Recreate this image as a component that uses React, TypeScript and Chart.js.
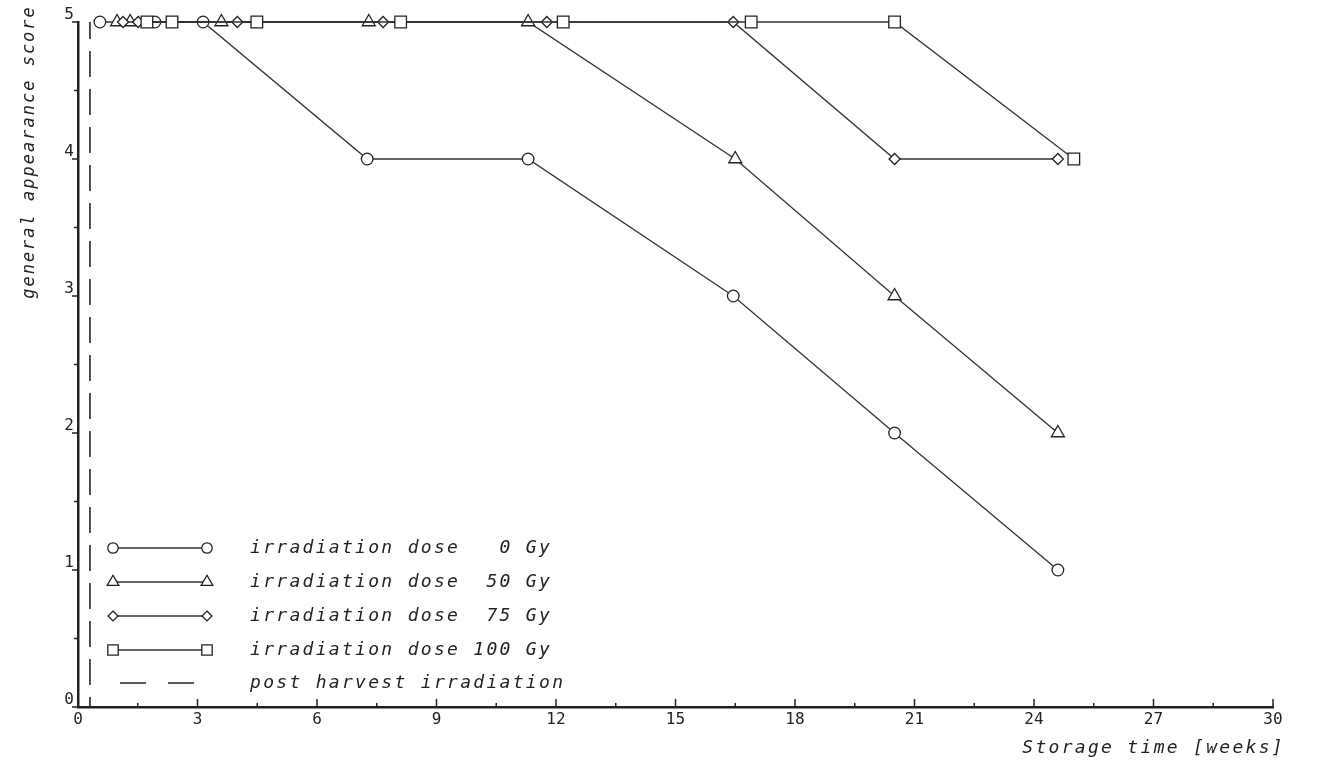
import React, { useEffect, useRef } from "react";
import { Chart, registerables } from "chart.js";

Chart.register(...registerables);

// ---- data ----
const weeks0 = [0.55, 1.93, 3.14, 7.26, 11.3, 16.45, 20.5, 24.6];
const score0 = [5, 5, 5, 4, 4, 3, 2, 1];
const weeks50 = [0.98, 1.31, 3.6, 7.3, 11.3, 16.5, 20.5, 24.6];
const score50 = [5, 5, 5, 5, 5, 4, 3, 2];
const weeks75 = [1.13, 1.51, 4.0, 7.66, 11.77, 16.45, 20.5, 24.6];
const score75 = [5, 5, 5, 5, 5, 5, 4, 4];
const weeks100 = [1.73, 2.36, 4.49, 8.1, 12.18, 16.9, 20.5, 25.0];
const score100 = [5, 5, 5, 5, 5, 5, 5, 4];
const irradiationWeek = [0.3, 0.3];
const irradiationScore = [0, 5];

const seriesLabels = [
  "irradiation dose   0 Gy",
  "irradiation dose  50 Gy",
  "irradiation dose  75 Gy",
  "irradiation dose 100 Gy",
];
const irradiationLabel = "post harvest irradiation";
const xTitle = "Storage time [weeks]";
const yTitle = "general appearance score";

const INK = "#222";
const LINE = "#333";
const MONO = '"DejaVu Sans Mono", "Liberation Mono", monospace';

const pts = (xs: number[], ys: number[]) => xs.map((x, i) => ({ x, y: ys[i] }));

const styles = [
  { pointStyle: "circle", radius: 5.8 },
  { pointStyle: "triangle", radius: 7.5 },
  { pointStyle: "rectRot", radius: 5.5 },
  { pointStyle: "rect", radius: 8.2 },
];

function drawMarker(ctx: CanvasRenderingContext2D, style: string, r: number, x: number, y: number) {
  ctx.beginPath();
  if (style === "circle") {
    ctx.arc(x, y, r, 0, Math.PI * 2);
  } else if (style === "triangle") {
    ctx.moveTo(x, y - r);
    ctx.lineTo(x + r * 0.866, y + r * 0.5);
    ctx.lineTo(x - r * 0.866, y + r * 0.5);
    ctx.closePath();
  } else if (style === "rectRot") {
    ctx.moveTo(x, y - r);
    ctx.lineTo(x + r, y);
    ctx.lineTo(x, y + r);
    ctx.lineTo(x - r, y);
    ctx.closePath();
  } else {
    const s = r * Math.SQRT1_2;
    ctx.rect(x - s, y - s, 2 * s, 2 * s);
  }
  ctx.fill();
  ctx.stroke();
}

const decorPlugin = {
  id: "decor",
  afterDraw(chart: any) {
    const { ctx, scales } = chart;
    const xs = scales.x;
    const ys = scales.y;
    const y0 = ys.getPixelForValue(0);
    const x0 = xs.getPixelForValue(0);
    ctx.save();
    ctx.strokeStyle = INK;
    ctx.lineWidth = 1.5;
    // x ticks (inward, upward)
    for (let v = 0; v <= 30; v += 1.5) {
      const px = xs.getPixelForValue(v);
      const major = Math.abs(v % 3) < 1e-6;
      ctx.beginPath();
      ctx.moveTo(px, y0);
      ctx.lineTo(px, y0 - (major ? 8 : 4));
      ctx.stroke();
    }
    // y ticks (outward, left)
    for (let v = 0; v <= 5; v += 0.5) {
      const py = ys.getPixelForValue(v);
      const major = Math.abs(v % 1) < 1e-6;
      ctx.beginPath();
      ctx.moveTo(x0, py);
      ctx.lineTo(x0 - (major ? 6 : 4), py);
      ctx.stroke();
    }

    // titles
    ctx.fillStyle = INK;
    ctx.textBaseline = "middle";
    ctx.font = `italic 17px ${MONO}`;
    (ctx as any).letterSpacing = "2px";
    ctx.save();
    ctx.translate(30, 152);
    ctx.rotate(-Math.PI / 2);
    ctx.textAlign = "center";
    ctx.fillText(yTitle, 0, 0);
    ctx.restore();

    ctx.font = `italic 18px ${MONO}`;
    (ctx as any).letterSpacing = "2.3px";
    ctx.textAlign = "right";
    ctx.fillText(xTitle, 1285, 748);

    // legend
    const rowY = [548, 582, 616, 650, 683];
    const mx1 = 113;
    const mx2 = 207;
    ctx.textAlign = "left";
    for (let i = 0; i < 4; i++) {
      const y = rowY[i];
      ctx.strokeStyle = LINE;
      ctx.lineWidth = 1.3;
      ctx.beginPath();
      ctx.moveTo(mx1, y);
      ctx.lineTo(mx2, y);
      ctx.stroke();
      ctx.fillStyle = "#fff";
      ctx.strokeStyle = INK;
      ctx.lineWidth = 1.3;
      const st = styles[i];
      drawMarker(ctx, st.pointStyle, st.radius * 0.9, mx1, y);
      drawMarker(ctx, st.pointStyle, st.radius * 0.9, mx2, y);
      ctx.fillStyle = INK;
      ctx.fillText(seriesLabels[i], 250, y);
    }
    ctx.strokeStyle = INK;
    ctx.lineWidth = 1.5;
    ctx.beginPath();
    ctx.moveTo(120, rowY[4]);
    ctx.lineTo(146, rowY[4]);
    ctx.moveTo(168, rowY[4]);
    ctx.lineTo(194, rowY[4]);
    ctx.stroke();
    ctx.fillStyle = INK;
    ctx.fillText(irradiationLabel, 250, rowY[4]);
    ctx.restore();
  },
};

export default function App() {
  const ref = useRef<HTMLCanvasElement | null>(null);
  useEffect(() => {
    document.body.style.margin = "0";
    const canvas = ref.current;
    if (!canvas) return;
    const mk = (xs: number[], ys: number[], i: number) => ({
      label: seriesLabels[i],
      data: pts(xs, ys),
      showLine: true,
      borderColor: LINE,
      borderWidth: 1.3,
      pointStyle: styles[i].pointStyle,
      pointRadius: styles[i].radius,
      pointBorderColor: INK,
      pointBorderWidth: 1.3,
      pointBackgroundColor: "#fff",
      clip: false as any,
      order: 4 - i,
    });
    const chart = new Chart(canvas, {
      type: "scatter",
      data: {
        datasets: [
          {
            label: irradiationLabel,
            data: pts(irradiationWeek, irradiationScore),
            showLine: true,
            borderColor: INK,
            borderWidth: 1.6,
            borderDash: [26, 12],
            borderDashOffset: -22,
            pointRadius: 0,
            clip: false as any,
            order: 10,
          },
          mk(weeks0, score0, 0),
          mk(weeks50, score50, 1),
          mk(weeks75, score75, 2),
          mk(weeks100, score100, 3),
        ] as any,
      },
      options: {
        responsive: false,
        animation: false,
        layout: { padding: { left: 0, right: 50, top: 22, bottom: 0 } },
        plugins: {
          legend: { display: false },
          tooltip: { enabled: false },
        },
        scales: {
          x: {
            type: "linear",
            min: 0,
            max: 30,
            grid: { display: false, drawTicks: false, tickLength: 0 },
            border: { display: true, color: INK, width: 2.5 },
            ticks: {
              stepSize: 3,
              color: INK,
              padding: 3,
              font: { family: MONO, size: 16 },
            },
            afterFit: (s: any) => {
              s.height = 65;
            },
          },
          y: {
            type: "linear",
            min: 0,
            max: 5,
            grid: { display: false, drawTicks: false, tickLength: 0 },
            border: { display: true, color: INK, width: 2.5 },
            ticks: {
              stepSize: 1,
              color: INK,
              padding: 4,
              labelOffset: -7,
              font: { family: MONO, size: 16 },
            },
            afterFit: (s: any) => {
              s.width = 78;
            },
          },
        },
      },
      plugins: [decorPlugin],
    });
    return () => chart.destroy();
  }, []);
  return (
    <div style={{ position: "absolute", left: 0, top: 0 }}>
      <canvas ref={ref} width={1323} height={772} />
    </div>
  );
}
